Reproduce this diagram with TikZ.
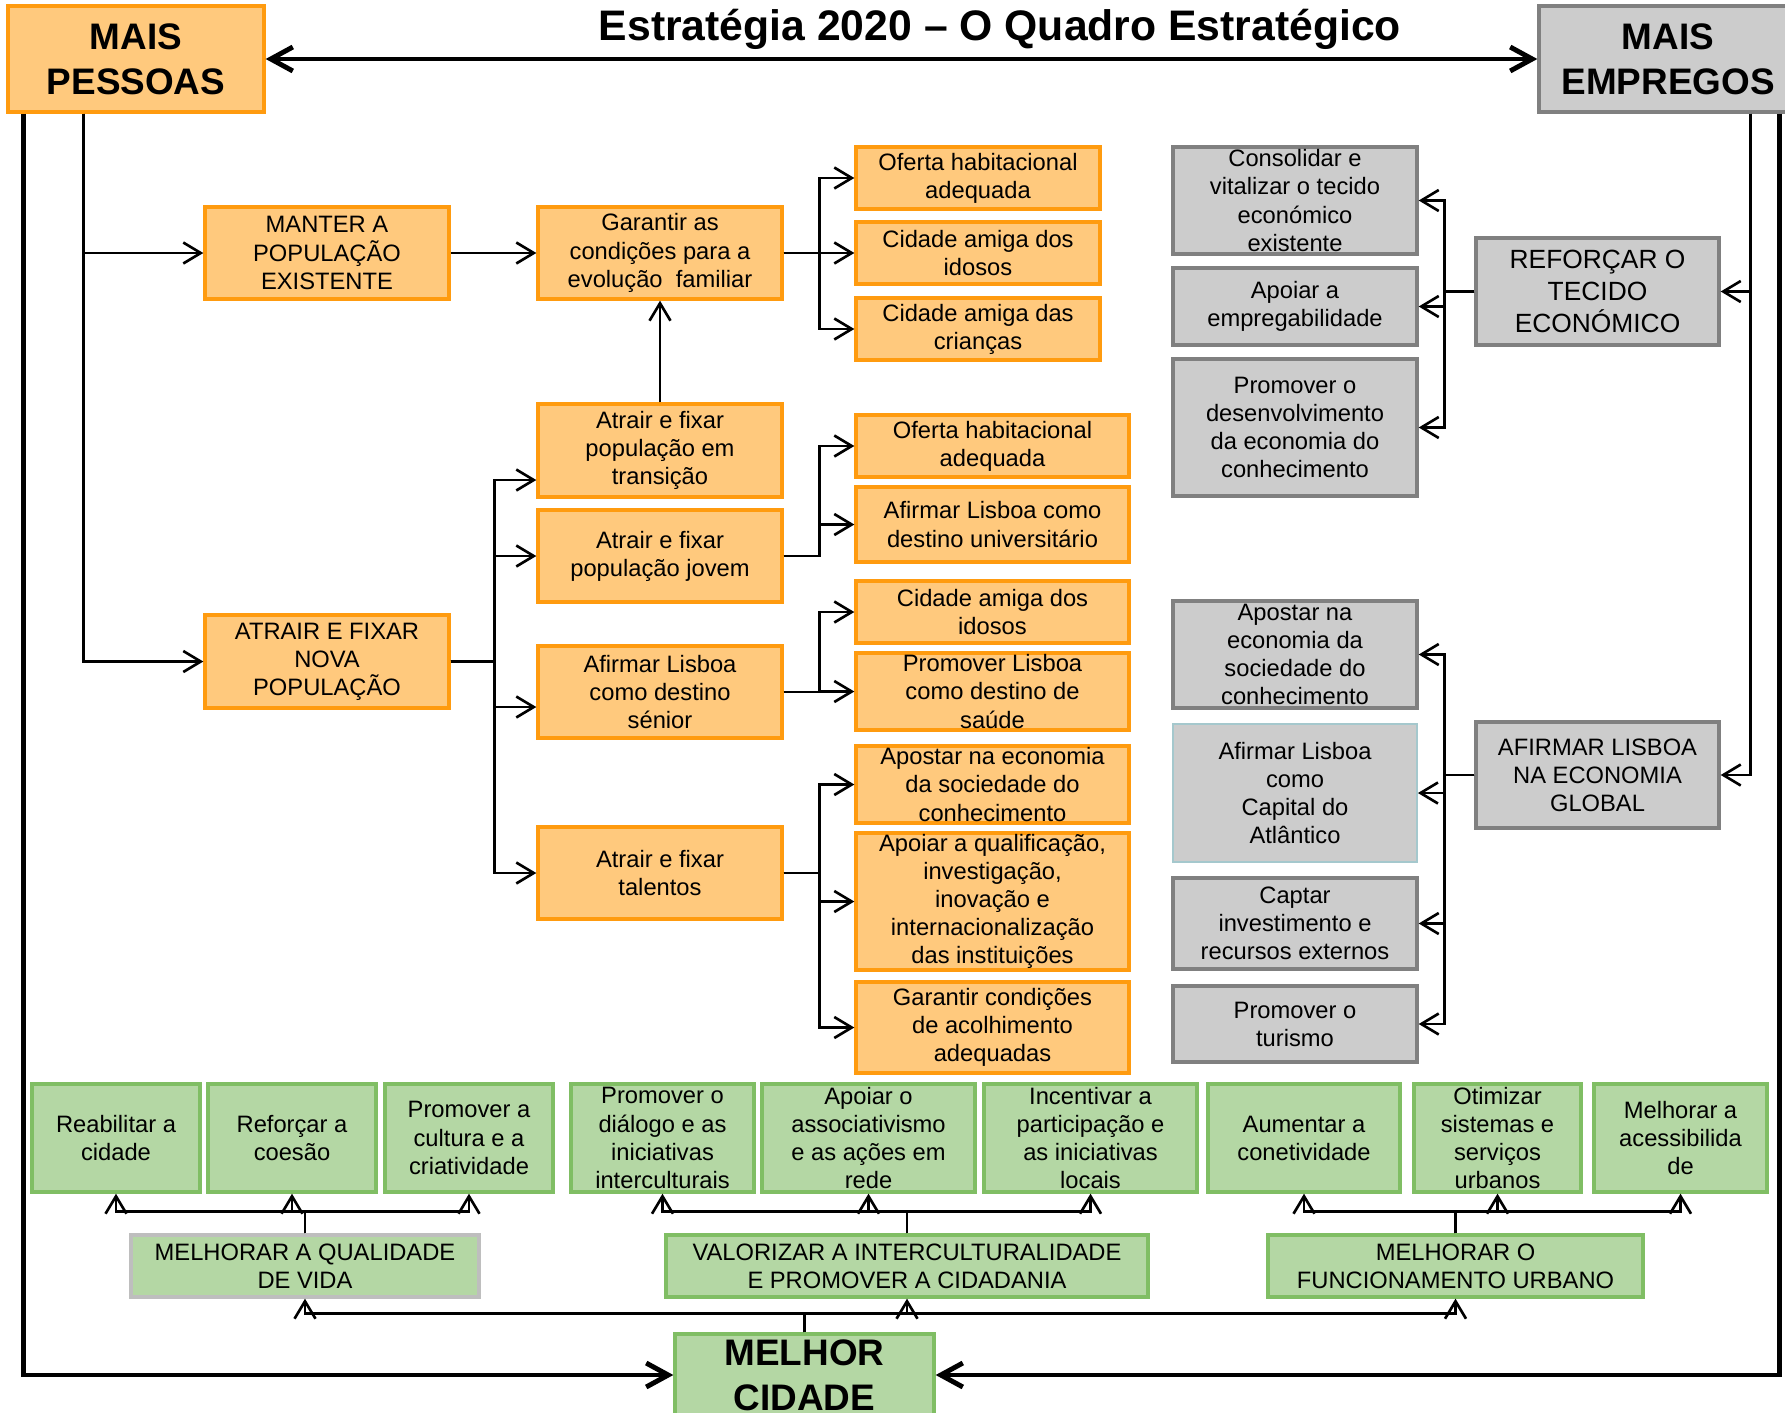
\documentclass[tikz,border=0pt]{standalone}
\usepackage{fontspec}
\setmainfont{Liberation Sans}
\usetikzlibrary{arrows.meta}

\definecolor{laranja}{RGB}{255,201,125}
\definecolor{laranjaEdge}{RGB}{255,155,15}
\definecolor{cinza}{RGB}{204,204,204}
\definecolor{cinzaEdge}{RGB}{128,128,128}
\definecolor{cinzaAzul}{RGB}{165,200,205}
\definecolor{verde}{RGB}{180,215,164}
\definecolor{verdeEdge}{RGB}{128,190,100}
\definecolor{verdeCinza}{RGB}{190,190,190}

% name, style, x1, y1, x2, y2, text
\newcommand{\drawBox}[7]{
  \node[#2, minimum width={(#5-#3)*0.2mm}, minimum height={(#6-#4)*0.2mm}] (#1) at ({(#3+#5)/2},{(#4+#6)/2}) {#7};
}
\newcommand{\drawForkH}[3]{
  \draw[link] (#1) -- ++(#3,0) |- (#2);
}
\newcommand{\drawForkV}[3]{
  \draw[link] (#1) -- ++(0,#3) -| (#2);
}

\begin{document}
\begin{tikzpicture}[x=0.2mm, y=-0.2mm,
  txt/.style={font=\fontsize{13.5}{16}\selectfont, align=center, inner sep=0pt},
  laranjabox/.style={txt, draw=laranjaEdge, fill=laranja, line width=1.9pt},
  cinzabox/.style={txt, draw=cinzaEdge, fill=cinza, line width=1.9pt},
  verdebox/.style={txt, draw=verdeEdge, fill=verde, line width=1.9pt},
  grande/.style={font=\bfseries\fontsize{21}{25.5}\selectfont},
  link/.style={line width=1.5pt, -{Straight Barb[length=3.5mm, width=4.2mm]}},
  bigarrow/.style={line width=2.8pt, -{Straight Barb[length=4.4mm, width=4.8mm]}},
  bigboth/.style={line width=2.8pt, {Straight Barb[length=4.4mm, width=4.8mm]}-{Straight Barb[length=4.4mm, width=4.8mm]}}]
  \useasboundingbox (0,0) rectangle (1785,1412);

  % Nodes
  \node[txt, font=\bfseries\fontsize{24.3}{28}\selectfont, anchor=base] (titulo) at (1000,41) {Estratégia 2020 – O Quadro Estratégico};
  \drawBox{pessoas}{laranjabox, grande}{8}{6}{264}{112}{MAIS\\PESSOAS}
  \drawBox{empregos}{cinzabox, grande}{1539}{6}{1797}{112}{MAIS\\EMPREGOS}
  \drawBox{cidade}{verdebox, grande}{675}{1334}{934}{1416}{MELHOR\\CIDADE}

  % mais pessoas
  \drawBox{manter}{laranjabox}{205}{207}{449}{299}{MANTER A\\POPULAÇÃO\\EXISTENTE}
  \drawBox{atrair}{laranjabox}{205}{615}{449}{708}{ATRAIR E FIXAR\\NOVA\\POPULAÇÃO}
  \drawBox{garantir}{laranjabox}{538}{207}{782}{299}{Garantir as\\condições para a\\evolução\ \ familiar}
  \drawBox{transicao}{laranjabox}{538}{404}{782}{497}{Atrair e fixar\\população em\\transição}
  \drawBox{jovem}{laranjabox}{538}{510}{782}{602}{Atrair e fixar\\população jovem}
  \drawBox{senior}{laranjabox}{538}{646}{782}{738}{Afirmar Lisboa\\como destino\\sénior}
  \drawBox{talentos}{laranjabox}{538}{827}{782}{919}{Atrair e fixar\\talentos}
  \drawBox{ofertaA}{laranjabox}{856}{147}{1100}{209}{Oferta habitacional\\adequada}
  \drawBox{idososA}{laranjabox}{856}{222}{1100}{284}{Cidade amiga dos\\idosos}
  \drawBox{criancas}{laranjabox}{856}{298}{1100}{360}{Cidade amiga das\\crianças}
  \drawBox{ofertaB}{laranjabox}{856}{415}{1129}{477}{Oferta habitacional\\adequada}
  \drawBox{universitario}{laranjabox}{856}{487}{1129}{562}{Afirmar Lisboa como\\destino universitário}
  \drawBox{idososB}{laranjabox}{856}{581}{1129}{643}{Cidade amiga dos\\idosos}
  \drawBox{saude}{laranjabox}{856}{653}{1129}{730}{Promover Lisboa\\como destino de\\saúde}
  \drawBox{apostarA}{laranjabox}{856}{746}{1129}{823}{Apostar na economia\\da sociedade do\\conhecimento}
  \drawBox{qualificacao}{laranjabox}{856}{833}{1129}{970}{Apoiar a qualificação,\\investigação,\\inovação e\\internacionalização\\das instituições}
  \drawBox{acolhimento}{laranjabox}{856}{982}{1129}{1073}{Garantir condições\\de acolhimento\\adequadas}

  % mais empregos
  \drawBox{consolidar}{cinzabox}{1173}{147}{1417}{254}{Consolidar e\\vitalizar o tecido\\económico\\existente}
  \drawBox{empregabilidade}{cinzabox}{1173}{268}{1417}{345}{Apoiar a\\empregabilidade}
  \drawBox{desenvolvimento}{cinzabox}{1173}{359}{1417}{496}{Promover o\\desenvolvimento\\da economia do\\conhecimento}
  \drawBox{reforcar}{cinzabox, font=\fontsize{15}{18}\selectfont}{1476}{238}{1719}{345}{REFORÇAR O\\TECIDO\\ECONÓMICO}
  \drawBox{apostarB}{cinzabox}{1173}{601}{1417}{708}{Apostar na\\economia da\\sociedade do\\conhecimento}
  \drawBox{capital}{cinzabox, draw=cinzaAzul, line width=1pt}{1173}{724}{1417}{862}{Afirmar Lisboa\\como\\Capital do\\Atlântico}
  \drawBox{captar}{cinzabox}{1173}{878}{1417}{969}{Captar\\investimento e\\recursos externos}
  \drawBox{turismo}{cinzabox}{1173}{986}{1417}{1062}{Promover o\\turismo}
  \drawBox{global}{cinzabox}{1476}{722}{1719}{828}{AFIRMAR LISBOA\\NA ECONOMIA\\GLOBAL}

  % melhor cidade
  \drawBox{reabilitar}{verdebox}{32}{1084}{200}{1192}{Reabilitar a\\cidade}
  \drawBox{coesao}{verdebox}{208}{1084}{376}{1192}{Reforçar a\\coesão}
  \drawBox{cultura}{verdebox}{385}{1084}{553}{1192}{Promover a\\cultura e a\\criatividade}
  \drawBox{dialogo}{verdebox}{571}{1084}{754}{1192}{Promover o\\diálogo e as\\iniciativas\\interculturais}
  \drawBox{associativismo}{verdebox}{762}{1084}{975}{1192}{Apoiar o\\associativismo\\e as ações em\\rede}
  \drawBox{incentivar}{verdebox}{984}{1084}{1197}{1192}{Incentivar a\\participação e\\as iniciativas\\locais}
  \drawBox{aumentar}{verdebox}{1208}{1084}{1400}{1192}{Aumentar a\\conetividade}
  \drawBox{otimizar}{verdebox}{1414}{1084}{1581}{1192}{Otimizar\\sistemas e\\serviços\\urbanos}
  \drawBox{acessibilidade}{verdebox}{1594}{1084}{1767}{1192}{Melhorar a\\acessibilida\\de}
  \drawBox{qdv}{verdebox, draw=verdeCinza}{131}{1235}{479}{1297}{MELHORAR A QUALIDADE\\DE VIDA}
  \drawBox{valorizar}{verdebox}{666}{1235}{1148}{1297}{VALORIZAR A INTERCULTURALIDADE\\E PROMOVER A CIDADANIA}
  \drawBox{funcionamento}{verdebox}{1268}{1235}{1643}{1297}{MELHORAR O\\FUNCIONAMENTO URBANO}

  % Big frame
  \draw[bigboth] (pessoas.east) -- (empregos.west);
  \draw[bigarrow] ([xshift=3.4mm]pessoas.south west) |- (cidade.west);
  \draw[bigarrow] ([xshift=-3.8mm]empregos.south east) |- (cidade.east);

  % Edges
  \draw[link] ([xshift=15.4mm]pessoas.south west) |- (manter.west);
  \draw[link] ([xshift=15.4mm]pessoas.south west) |- (atrair.west);
  \draw[link] (manter.east) -- (garantir.west);
  \draw[link] (transicao.north) -- (garantir.south);
  \drawForkH{garantir.east}{ofertaA.west}{7.2mm}
  \drawForkH{garantir.east}{idososA.west}{7.2mm}
  \drawForkH{garantir.east}{criancas.west}{7.2mm}
  \drawForkH{atrair.east}{[yshift=-5.9mm]transicao.west}{8.8mm}
  \drawForkH{atrair.east}{jovem.west}{8.8mm}
  \drawForkH{atrair.east}{[yshift=-3mm]senior.west}{8.8mm}
  \drawForkH{atrair.east}{talentos.west}{8.8mm}
  \drawForkH{jovem.east}{ofertaB.west}{7.2mm}
  \drawForkH{jovem.east}{universitario.west}{7.2mm}
  \drawForkH{senior.east}{idososB.west}{7.2mm}
  \drawForkH{senior.east}{saude.west}{7.2mm}
  \drawForkH{talentos.east}{apostarA.west}{7.2mm}
  \drawForkH{talentos.east}{qualificacao.west}{7.2mm}
  \drawForkH{talentos.east}{acolhimento.west}{7.2mm}

  \draw[link] ([xshift=-9.6mm]empregos.south east) |- (reforcar.east);
  \draw[link] ([xshift=-9.6mm]empregos.south east) |- (global.east);
  \drawForkH{reforcar.west}{consolidar.east}{-6mm}
  \drawForkH{reforcar.west}{empregabilidade.east}{-6mm}
  \drawForkH{reforcar.west}{desenvolvimento.east}{-6mm}
  \drawForkH{global.west}{apostarB.east}{-6mm}
  \drawForkH{global.west}{capital.east}{-6mm}
  \drawForkH{global.west}{captar.east}{-6mm}
  \drawForkH{global.west}{turismo.east}{-6mm}

  \drawForkV{qdv.north}{reabilitar.south}{4.4mm}
  \drawForkV{qdv.north}{coesao.south}{4.4mm}
  \drawForkV{qdv.north}{cultura.south}{4.4mm}
  \drawForkV{valorizar.north}{dialogo.south}{4.4mm}
  \drawForkV{valorizar.north}{associativismo.south}{4.4mm}
  \drawForkV{valorizar.north}{incentivar.south}{4.4mm}
  \drawForkV{funcionamento.north}{aumentar.south}{4.4mm}
  \drawForkV{funcionamento.north}{otimizar.south}{4.4mm}
  \drawForkV{funcionamento.north}{acessibilidade.south}{4.4mm}
  \drawForkV{cidade.north}{qdv.south}{3.8mm}
  \drawForkV{cidade.north}{valorizar.south}{3.8mm}
  \drawForkV{cidade.north}{funcionamento.south}{3.8mm}
\end{tikzpicture}
\end{document}
